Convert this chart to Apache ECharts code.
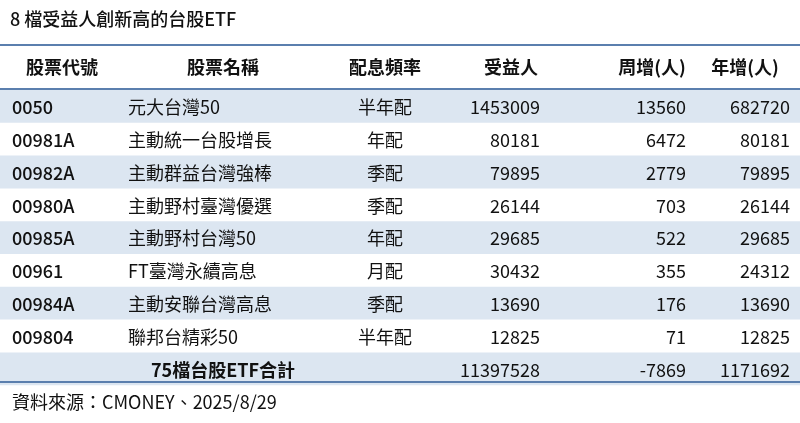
<!DOCTYPE html><html><head><meta charset="utf-8"><script src="https://cdn.jsdelivr.net/npm/echarts@6/dist/echarts.min.js"></script>
<style>body{margin:0}#c{width:800px;height:423px}</style></head><body><div id="c"></div><script>
var title='8 檔受益人創新高的台股ETF';
var headers=['股票代號','股票名稱','配息頻率','受益人','周增(人)','年增(人)'];
var codes=['0050','00981A','00982A','00980A','00985A','00961','00984A','009804'];
var names=['元大台灣50','主動統一台股增長','主動群益台灣強棒','主動野村臺灣優選','主動野村台灣50','FT臺灣永續高息','主動安聯台灣高息','聯邦台精彩50'];
var freqs=['半年配','年配','季配','季配','年配','月配','季配','半年配'];
var holders=[1453009,80181,79895,26144,29685,30432,13690,12825];
var weekly=[13560,6472,2779,703,522,355,176,71];
var yearly=[682720,80181,79895,26144,29685,24312,13690,12825];
var totalLabel='75檔台股ETF合計';
var totals=[11397528,-7869,1171692];
var source='資料來源：CMONEY、2025/8/29';
var F='"Noto Sans CJK TC","Noto Sans",sans-serif';
var g=[];
function t(x,y,s,al,w,size){g.push({type:'text',x:x,y:y,style:{text:String(s),fill:'#111',font:(w||'normal')+' '+(size||18)+'px '+F,textAlign:al,textVerticalAlign:'middle'}});}
var top0=90,rh=32.8;
for(var i=0;i<9;i+=2)g.push({type:'rect',shape:{x:0,y:top0+i*rh,width:800,height:rh},style:{fill:'#dce6f1'}});
g.push({type:'rect',shape:{x:0,y:44,width:800,height:2},style:{fill:'#5b7fae'}});
g.push({type:'rect',shape:{x:0,y:88,width:800,height:2},style:{fill:'#5b7fae'}});
g.push({type:'rect',shape:{x:0,y:381,width:800,height:2},style:{fill:'#5b7fae'}});
t(10,19,title,'left','500',18);
var hx=[62,223,385,511,652,745];
headers.forEach(function(h,j){t(hx[j],67,h,'center','bold',18);});
codes.forEach(function(c,i){var y=top0+i*rh+rh/2+1;
t(12,y,c,'left','500',18);t(128,y,names[i],'left','normal',18);t(385,y,freqs[i],'center','normal',18);
t(540,y,holders[i],'right','normal',18);t(686,y,weekly[i],'right','normal',18);t(790,y,yearly[i],'right','normal',18);});
var ty=top0+8*rh+rh/2+1;
t(223,ty,totalLabel,'center','bold',18);t(540,ty,totals[0],'right','normal',18);t(686,ty,totals[1],'right','normal',18);t(790,ty,totals[2],'right','normal',18);
t(12,402,source,'left','normal',18);
echarts.init(document.getElementById('c')).setOption({backgroundColor:'#fff',graphic:g});
</script></body></html>
